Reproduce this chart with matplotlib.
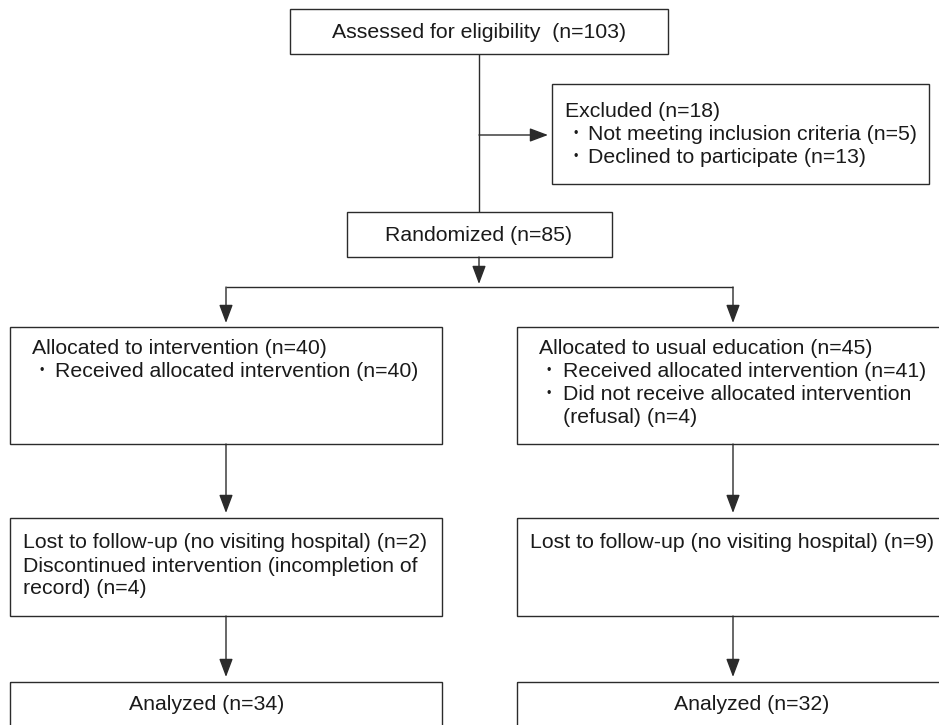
import matplotlib.pyplot as plt
from matplotlib.patches import Rectangle

plt.rcParams['font.family'] = ['Liberation Sans', 'DejaVu Sans']

# flow counts
assessed = 103
excluded = 18
not_meeting = 5
declined = 13
randomized = 85
alloc_int = 40
recv_int = 40
alloc_usual = 45
recv_usual = 41
refused_usual = 4
lost_int = 2
discont_int = 4
lost_usual = 9
analyzed_int = 34
analyzed_usual = 32

LC = '#2b2b2b'
FS = 15.3

fig = plt.figure(figsize=(9.39, 7.25), dpi=100)
ax = fig.add_axes([0, 0, 1, 1])
ax.set_xlim(0, 939)
ax.set_ylim(725, 0)
ax.axis('off')


def box(x0, y0, x1, y1):
    ax.add_patch(Rectangle((x0, y0), x1 - x0, y1 - y0, fill=False,
                           edgecolor=LC, lw=1.0, clip_on=True))


def line(xs, ys):
    ax.plot(xs, ys, color=LC, lw=1.0, solid_capstyle='butt')


def arrow(x0, y0, x1, y1):
    ax.annotate('', xy=(x1, y1), xytext=(x0, y0),
                arrowprops=dict(arrowstyle='-|>,head_length=0.8,head_width=0.3',
                                color=LC, lw=1.0, shrinkA=0, shrinkB=0,
                                mutation_scale=14))


def txt(x, y, s, ha='left'):
    ax.text(x, y, s, ha=ha, va='center', fontsize=FS, color='#1a1a1a')


def bullet(x, y):
    ax.text(x, y, '•', ha='center', va='center', fontsize=9, color='#1a1a1a')


# boxes
box(290, 9, 668, 54)
box(552, 84, 929, 184)
box(347, 212, 612, 257)
box(10, 327, 442, 444)
box(517, 327, 960, 444)
box(10, 518, 442, 616)
box(517, 518, 960, 616)
box(10, 682, 442, 760)
box(517, 682, 960, 760)

# connectors
line([479, 479], [54, 212])
arrow(479, 135, 548, 135)
arrow(479, 257, 479, 284)
line([226, 733], [287, 287])
arrow(226, 287, 226, 323)
arrow(733, 287, 733, 323)
arrow(226, 444, 226, 513)
arrow(733, 444, 733, 513)
arrow(226, 616, 226, 677)
arrow(733, 616, 733, 677)

# texts
txt(479, 32, f'Assessed for eligibility  (n={assessed})', ha='center')
txt(565, 111, f'Excluded (n={excluded})')
bullet(576, 134)
txt(588, 134, f'Not meeting inclusion criteria (n={not_meeting})')
bullet(576, 157)
txt(588, 157, f'Declined to participate (n={declined})')
txt(479, 235, f'Randomized (n={randomized})', ha='center')

txt(32, 348, f'Allocated to intervention (n={alloc_int})')
bullet(42, 371)
txt(55, 371, f'Received allocated intervention (n={recv_int})')

txt(539, 348, f'Allocated to usual education (n={alloc_usual})')
bullet(549, 371)
txt(563, 371, f'Received allocated intervention (n={recv_usual})')
bullet(549, 394)
txt(563, 394, 'Did not receive allocated intervention')
txt(563, 417, f'(refusal) (n={refused_usual})')

txt(23, 543, f'Lost to follow-up (no visiting hospital) (n={lost_int})')
txt(23, 566, 'Discontinued intervention (incompletion of')
txt(23, 589, f'record) (n={discont_int})')

txt(530, 543, f'Lost to follow-up (no visiting hospital) (n={lost_usual})')

txt(207, 704, f'Analyzed (n={analyzed_int})', ha='center')
txt(752, 704, f'Analyzed (n={analyzed_usual})', ha='center')

fig.savefig('out.png', dpi=100, facecolor='white')
